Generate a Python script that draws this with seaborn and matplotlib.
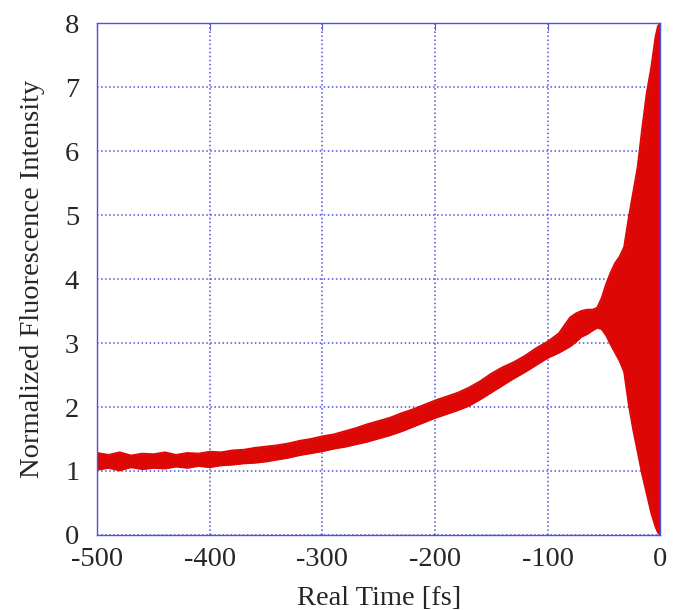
import matplotlib
matplotlib.use('Agg')
import matplotlib.pyplot as plt
import seaborn as sns
import pandas as pd

# envelope of the fast-oscillating fluorescence trace
time_fs = [-500, -490, -480, -470, -460, -450, -440, -430, -420, -410,
           -400, -390, -380, -370, -360, -350, -340, -330, -320, -310,
           -300, -290, -280, -270, -260, -250, -240, -230, -220, -210,
           -200, -190, -180, -170, -160, -150, -140, -130, -120, -110,
           -100, -90, -80, -75, -70, -65, -60, -56, -52, -48,
           -44, -40, -36, -32, -28, -24, -20, -16, -12, -8,
           -4, -2, 0]
upper = [1.28, 1.25, 1.29, 1.24, 1.27, 1.26, 1.29, 1.25, 1.28, 1.27,
         1.30, 1.29, 1.32, 1.33, 1.36, 1.38, 1.40, 1.43, 1.47, 1.50,
         1.54, 1.57, 1.62, 1.67, 1.73, 1.78, 1.83, 1.90, 1.96, 2.03,
         2.10, 2.16, 2.22, 2.30, 2.40, 2.52, 2.62, 2.70, 2.80, 2.92,
         3.02, 3.15, 3.40, 3.46, 3.50, 3.52, 3.52, 3.55, 3.70, 3.92,
         4.10, 4.25, 4.35, 4.50, 4.95, 5.35, 5.75, 6.35, 6.90, 7.30,
         7.80, 7.95, 8.00]
lower = [1.02, 1.05, 1.01, 1.06, 1.03, 1.05, 1.04, 1.07, 1.05, 1.08,
         1.06, 1.09, 1.10, 1.12, 1.13, 1.15, 1.18, 1.21, 1.25, 1.28,
         1.31, 1.35, 1.38, 1.42, 1.46, 1.51, 1.56, 1.62, 1.69, 1.76,
         1.83, 1.89, 1.95, 2.02, 2.12, 2.23, 2.34, 2.45, 2.55, 2.66,
         2.77, 2.85, 2.95, 3.02, 3.10, 3.14, 3.20, 3.24, 3.22, 3.12,
         2.98, 2.85, 2.72, 2.55, 2.05, 1.65, 1.30, 0.95, 0.65, 0.35,
         0.12, 0.04, 0.00]

x_ticks = [-500, -400, -300, -200, -100, 0]
y_ticks = [0, 1, 2, 3, 4, 5, 6, 7, 8]

red = '#dd0806'
blue = '#5050dc'

sns.set_style('white')
plt.rcParams['font.family'] = ['Liberation Serif', 'DejaVu Serif']
plt.rcParams['axes.unicode_minus'] = False

df = pd.DataFrame({'t': time_fs, 'upper': upper, 'lower': lower})

fig, ax = plt.subplots(figsize=(6.8, 6.1), dpi=100)
fig.subplots_adjust(left=0.143, right=0.971, bottom=0.123, top=0.962)

ax.fill_between(df['t'], df['lower'], df['upper'], color=red, lw=0)
sns.lineplot(data=df, x='t', y='upper', ax=ax, color=red, lw=1.5)
sns.lineplot(data=df, x='t', y='lower', ax=ax, color=red, lw=1.5)

ax.set_xlim(-500, 0)
ax.set_ylim(0, 8)
ax.set_xticks(x_ticks)
ax.set_yticks(y_ticks)
ax.grid(True, color=blue, linestyle=':', linewidth=1.1)
ax.set_axisbelow(True)
for s in ax.spines.values():
    s.set_color(blue)
    s.set_linewidth(1.0)
ax.tick_params(direction='in', length=5, color=blue, labelsize=20.5,
               top=True, right=True)
ax.tick_params(axis='x', pad=9)
ax.tick_params(axis='y', pad=13)
ax.set_xlabel('Real Time [fs]', fontsize=20.5, labelpad=10)
ax.set_ylabel('Normalized Fluorescence Intensity', fontsize=20.5, labelpad=14)

fig.savefig('out.png', dpi=100)
